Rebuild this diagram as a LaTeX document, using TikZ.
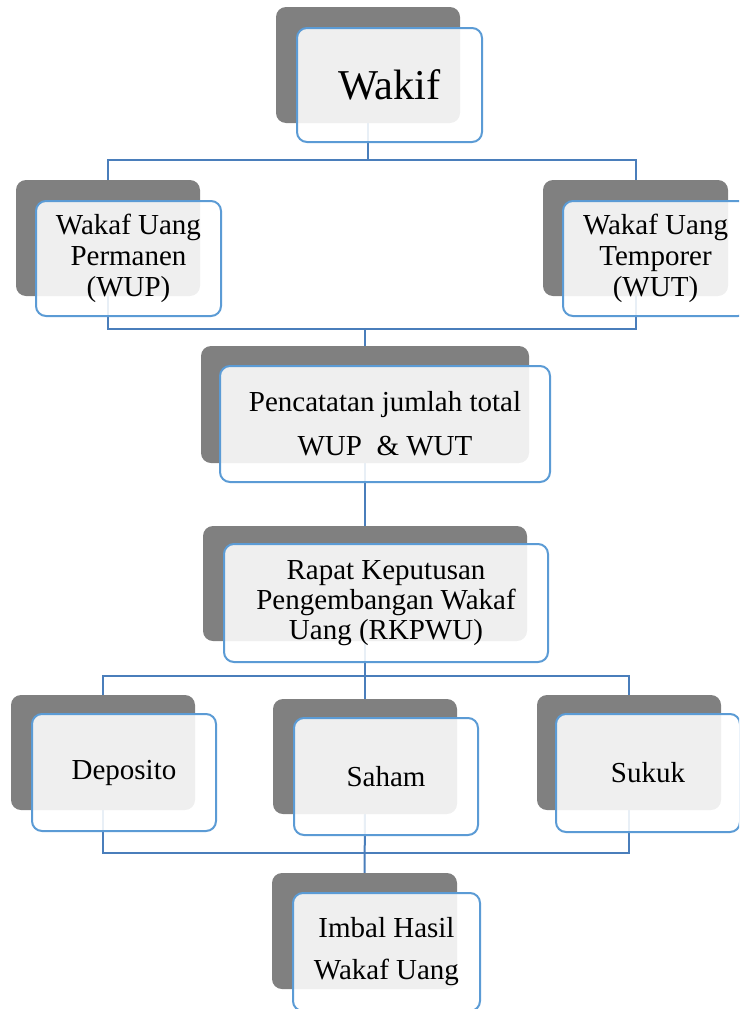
\documentclass[tikz,border=0pt]{standalone}
\usepackage{fontspec}
\setmainfont{Liberation Serif}
\usetikzlibrary{backgrounds}
\definecolor{boxgray}{HTML}{808080}
\definecolor{boxblue}{HTML}{5B9BD5}
\definecolor{linkblue}{HTML}{4A7EBB}
\begin{document}
\begin{tikzpicture}[x=1pt,y=-1pt,
  graybox/.style={fill=boxgray, draw=none, rounded corners=10pt, inner sep=0pt},
  bluebox/.style={draw=boxblue, line width=2pt, fill=white, fill opacity=0.88, text opacity=1,
    rounded corners=10pt, inner sep=0pt, align=center, font=\fontsize{29}{31}\selectfont},
  link/.style={draw=linkblue, line width=2pt}
]
\path[use as bounding box, clip] (0,0) rectangle (739,1009);

% shadow boxes
\node[graybox, minimum width=184pt, minimum height=116pt] (wakifG) at (368,65) {};
\node[graybox, minimum width=184pt, minimum height=116pt] (wupG) at (108,238) {};
\node[graybox, minimum width=185pt, minimum height=116pt] (wutG) at (635.5,238) {};
\node[graybox, minimum width=328pt, minimum height=117pt] (pencG) at (365,404.5) {};
\node[graybox, minimum width=324pt, minimum height=115pt] (rapatG) at (365,583.5) {};
\node[graybox, minimum width=184pt, minimum height=115pt] (depG) at (103,752.5) {};
\node[graybox, minimum width=184pt, minimum height=115pt] (sahG) at (365,756.5) {};
\node[graybox, minimum width=184pt, minimum height=115pt] (sukG) at (629,752.5) {};
\node[graybox, minimum width=185pt, minimum height=116pt] (imbG) at (364.5,931) {};

% connectors
\coordinate (b1) at (368,160);
\coordinate (b2) at (365,329);
\coordinate (b3) at (365,676);
\coordinate (b4) at (365,853);
\begin{scope}[on background layer]
  \draw[link] (wakifG.center) -- (b1);
  \draw[link] (wupG.center) |- (b1) -| (wutG.center);
  \draw[link] (wupG.center) |- (b2) -| (wutG.center);
  \draw[link] (b2) -- (pencG.center);
  \draw[link] (pencG.center) -- (rapatG.center);
  \draw[link] (depG.center) |- (b3) -| (sukG.center);
  \draw[link] (rapatG.center) -- (sahG.center);
  \draw[link] (depG.center) |- (b4) -| (sukG.center);
  \draw[link] (sahG.center) -- (imbG.center);
\end{scope}

% front boxes
\node[bluebox, minimum width=185pt, minimum height=114pt, font=\fontsize{42.5}{44}\selectfont] (wakif) at (389.5,85) {Wakif};
\node[bluebox, minimum width=185pt, minimum height=115pt] (wup) at (128.5,258.5) {Wakaf Uang\\Permanen\\(WUP)};
\node[bluebox, minimum width=185pt, minimum height=115pt] (wut) at (655.5,258.5) {Wakaf Uang\\Temporer\\(WUT)};
\node[bluebox, minimum width=330pt, minimum height=116pt, font=\fontsize{29}{44}\selectfont] (penc) at (385,424) {Pencatatan jumlah total\\WUP\ \ \& WUT};
\node[bluebox, minimum width=324pt, minimum height=118pt, font=\fontsize{29}{30}\selectfont] (rapat) at (386,603) {Rapat Keputusan\\Pengembangan Wakaf\\Uang (RKPWU)};
\node[bluebox, minimum width=184pt, minimum height=117pt] (dep) at (124,772.5) {Deposito};
\node[bluebox, minimum width=184pt, minimum height=117pt] (sah) at (386,776.5) {Saham};
\node[bluebox, minimum width=184pt, minimum height=118pt] (suk) at (648,773) {Sukuk};
\node[bluebox, minimum width=187pt, minimum height=118pt, font=\fontsize{29}{42}\selectfont] (imb) at (386.5,952) {Imbal Hasil\\Wakaf Uang};
\end{tikzpicture}
\end{document}
